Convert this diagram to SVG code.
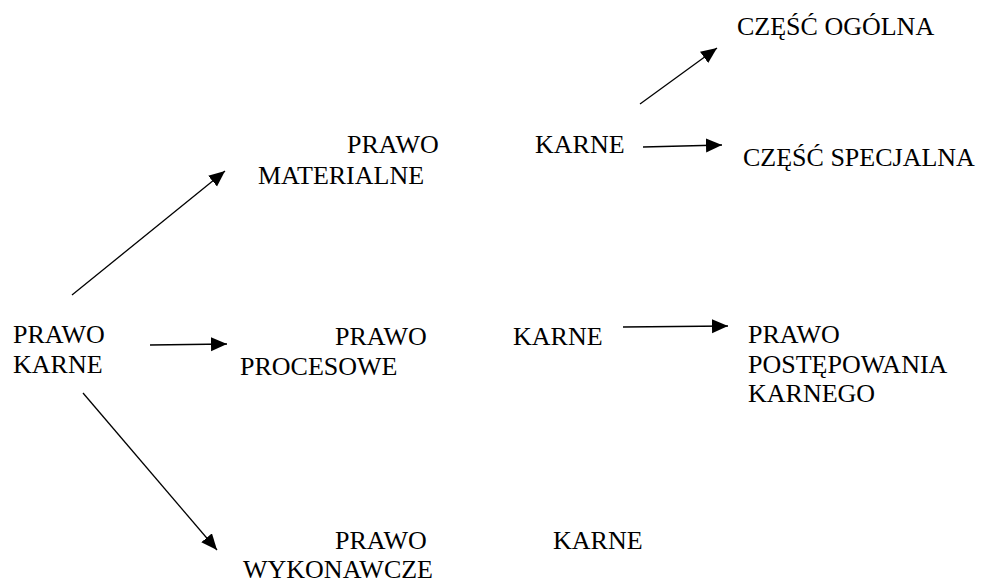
<svg xmlns="http://www.w3.org/2000/svg" width="981" height="583" viewBox="0 0 981 583">
<style>
text{font-family:'Liberation Serif','Times New Roman',Times,serif;font-size:26px;fill:#000}
.c{stroke:#000;stroke-width:1.3;fill:none;marker-end:url(#ah)}
</style>
<defs>
<marker id="ah" markerUnits="userSpaceOnUse" markerWidth="17" markerHeight="15" refX="16" refY="7" orient="auto" viewBox="0 0 17 15">
<path d="M0,0 L16,7 L0,14 z" fill="#000"/>
</marker>
</defs>
<rect width="981" height="583" fill="#fff"/>
<g id="connectors">
<path class="c" d="M72,295 L225,171"/>
<path class="c" d="M150,345 L227,344"/>
<path class="c" d="M83,393 L217,550"/>
<path class="c" d="M640,104 L717,48"/>
<path class="c" d="M643,147 L722,145"/>
<path class="c" d="M623,327 L728,326"/>
</g>
<g id="prawo-karne"><text x="13" y="343">PRAWO</text><text x="13" y="373">KARNE</text></g>
<g id="materialne"><text x="347" y="153">PRAWO</text><text x="535" y="153">KARNE</text><text x="258" y="184">MATERIALNE</text></g>
<g id="procesowe"><text x="335" y="345">PRAWO</text><text x="513" y="345">KARNE</text><text x="240" y="375">PROCESOWE</text></g>
<g id="wykonawcze"><text x="335" y="549">PRAWO</text><text x="553" y="549">KARNE</text><text x="243" y="578">WYKONAWCZE</text></g>
<g id="ogolna"><text x="737" y="35">CZĘŚĆ OGÓLNA</text></g>
<g id="specjalna"><text x="743" y="166">CZĘŚĆ SPECJALNA</text></g>
<g id="postepowania"><text x="748" y="343">PRAWO</text><text x="748" y="373">POSTĘPOWANIA</text><text x="748" y="402">KARNEGO</text></g>
</svg>
